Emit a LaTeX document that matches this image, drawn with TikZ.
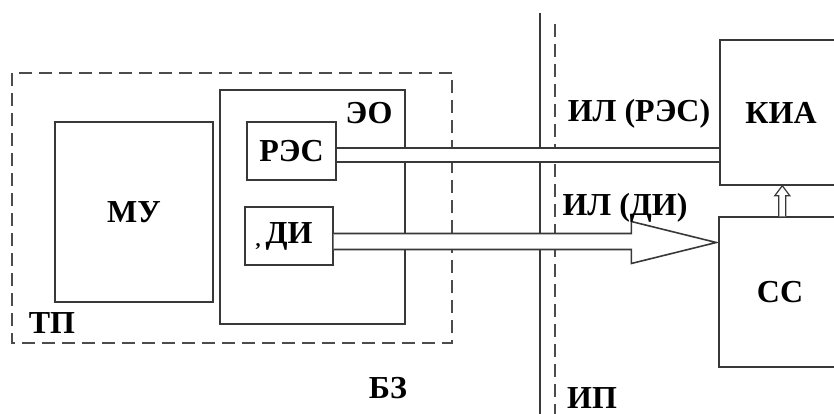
\documentclass[tikz,border=0pt]{standalone}
\usepackage{fontspec}
\setmainfont{Liberation Serif}
\usetikzlibrary{calc}
\begin{document}
\begin{tikzpicture}[x=1pt,y=-1pt,
  ln/.style={draw=black!78, line width=1.4pt},
  box/.style={ln, rectangle, fill=white, inner sep=0pt},
  dsh/.style={draw=black!70, line width=1.3pt, dash pattern=on 13pt off 7pt},
  lbl/.style={font=\fontsize{32}{32}\selectfont\bfseries, inner sep=0pt}]
\useasboundingbox (0,0) rectangle (834,414);
\clip (0,0) rectangle (834,414);
% TP dashed region
\draw[dsh] (12,73) rectangle (452,343);
% boxes
\node[box, minimum width=185pt, minimum height=234pt] (eo) at (312.5,207) {};
\node[box, minimum width=158pt, minimum height=180pt, lbl] (mu) at (134,212) {МУ};
\node[box, minimum width=89pt, minimum height=58pt, lbl] (res) at (291.5,151) {РЭС};
\node[box, minimum width=88pt, minimum height=58pt, lbl] (di) at (289,236) {ДИ};
\node[box, minimum width=122pt, minimum height=145pt, lbl] (kia) at (781,112.5) {КИА};
\node[box, minimum width=122pt, minimum height=150pt, lbl] (cc) at (780,292) {СС};
% boundary lines
\coordinate (v1t) at (540,13); \coordinate (v1b) at (540,414);
\coordinate (v2t) at (555,24); \coordinate (v2b) at (555,414);
\draw[ln] (v1t) -- (v1b);
\draw[dsh] (v2t) -- (v2b);
% RES band
\path (res.east) ++(0,-3) coordinate (b1);
\path (res.east) ++(0,11) coordinate (b2);
\fill[white] (b1) rectangle (kia.west |- b2);
\draw[ln] (b1) -- (kia.west |- b1);
\draw[ln] (b2) -- (kia.west |- b2);
% DI hollow arrow
\path (di.east) ++(0,-2.5) coordinate (d1);
\path (di.east) ++(0,13.5) coordinate (d2);
\path (di.east) ++(0,6.5) coordinate (dm);
\draw[ln, line width=1.6pt, fill=white, line join=miter]
  (d1) -- ($(cc.west |- d1)+(-87,0)$) -- ($(cc.west |- dm)+(-87,-21)$)
  -- ($(cc.west |- dm)+(-2,0)$) -- ($(cc.west |- dm)+(-87,21)$)
  -- ($(cc.west |- d2)+(-87,0)$) -- (d2);
% small arrow CC -> KIA
\coordinate (sa) at ($(cc.north west)+(64,0)$);
\coordinate (ta) at ($(kia.south west)+(63,0)$);
\draw[ln, line width=1.2pt, fill=white]
  ($(sa)+(-3.5,0)$) -- ($(ta)+(-3.5,10)$) -- ($(ta)+(-7.5,10)$) -- (ta)
  -- ($(ta)+(7.5,10)$) -- ($(ta)+(3.5,10)$) -- ($(sa)+(3.5,0)$);
% labels
\node[lbl] (leo) at (369,113) {ЭО};
\node[lbl] (ltp) at (52,323) {ТП};
\node[lbl] (lbz) at (388,388) {БЗ};
\node[lbl] (lilres) at (639,114) {ИЛ (РЭС)};
\node[lbl] (lildi) at (625,208) {ИЛ (ДИ)};
\node[lbl] (lip) at (592,398) {ИП};
\node[font=\fontsize{20}{20}\selectfont\bfseries, inner sep=0pt] (comma) at (258,247) {,};
\end{tikzpicture}
\end{document}
